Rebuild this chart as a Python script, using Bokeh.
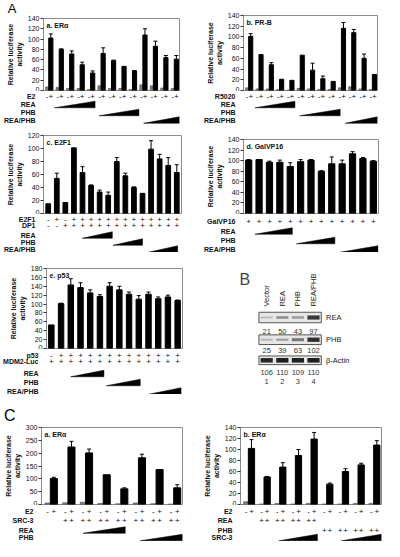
import math
from bokeh.plotting import figure
from bokeh.layouts import row, column
from bokeh.models import Range1d, FixedTicker, Whisker, ColumnDataSource, Label, TeeHead
from bokeh.embed import file_html
from bokeh.resources import INLINE
from bokeh.core.properties import value

FONT = "Liberation Sans"

# ---------------- data ----------------
# A-a ER alpha (pairs: vehicle / E2)
a_groups = list(range(1, 14))
a_veh = [7, 6, 4, 4, 2, 9, 4, 4, 2, 11, 9, 5, 4]
a_e2 = [102, 80, 71, 50, 34, 72, 58, 47, 38, 108, 86, 64, 61]
a_err = [8, 1, 6, 5, 4, 11, 1, 0, 1, 12, 10, 4, 7]
a_rows = ["E2", "REA", "PHB", "REA/PHB"]
a_signs = ["-+"] * 13
a_wedges = [(1.55, 5.43), (5.82, 9.62), (10.07, 13.5)]

# A-b PR-B
b_groups = list(range(1, 14))
b_veh = [5, 3, 3, 2, 1, 4, 3, 2, 2, 5, 7, 3, 2]
b_r5020 = [101, 67, 48, 21, 19, 66, 38, 22, 17, 116, 108, 60, 30]
b_err = [5, 0, 4, 0, 0, 0, 13, 5, 0, 11, 6, 8, 0]
b_rows = ["R5020", "REA", "PHB", "REA/PHB"]
b_signs = ["-+"] * 13
b_wedges = [(1.61, 5.49), (5.95, 9.88), (10.37, 13.5)]

# A-c E2F1
c_bars = list(range(1, 17))
c_vals = [15, 54, 17, 101, 63, 43, 33, 28, 80, 58, 40, 31, 99, 84, 74, 63]
c_err = [0, 8, 0, 0, 9, 1, 3, 5, 6, 4, 1, 0, 13, 7, 12, 12]
c_rows = ["E2F1", "DP1", "REA", "PHB", "REA/PHB"]
c_e2f1 = list("-+-+++++++++++++")
c_dp1 = list("--++++++++++++++")
c_wedges = [(4.96, 8.48), (8.56, 12.0), (12.7, 16.1)]

# A-d GalVP16
d_bars = list(range(1, 14))
d_vals = [101, 102, 97, 97, 89, 98, 101, 80, 94, 94, 113, 104, 99]
d_err = [1, 0, 2, 4, 7, 4, 1, 1, 13, 7, 4, 2, 1]
d_rows = ["GalVP16", "REA", "PHB", "REA/PHB"]
d_gal = list("+" * 13)
d_wedges = [(1.6, 5.2), (5.6, 9.3), (9.8, 13.45)]

# A-e p53
e_bars = list(range(1, 15))
e_vals = [53, 101, 143, 137, 125, 117, 140, 132, 122, 111, 122, 112, 116, 108]
e_err = [0, 1, 14, 11, 7, 4, 8, 8, 5, 8, 5, 4, 4, 1]
e_rows = ["p53", "MDM2-Luc", "REA", "PHB", "REA/PHB"]
e_p53 = list("-+++++++++++++")
e_mdm2 = list("+" * 14)
e_wedges = [(2.99, 6.41), (6.66, 10.15), (11.02, 14.35)]

# B western blot
lanes = [1, 2, 3, 4]
lane_names = ["Vector", "REA", "PHB", "REA/PHB"]
blot_rows = ["REA", "PHB", "β-Actin"]
rea_band = [21, 50, 43, 97]
phb_band = [25, 39, 63, 102]
actin_band = [106, 110, 109, 110]

# C-a ER alpha + SRC-3
ca_groups = list(range(1, 9))
ca_veh = [6, 7, 9, 4, 3, 6, 3, 2]
ca_e2 = [101, 224, 201, 116, 61, 182, 136, 65]
ca_err = [5, 22, 15, 0, 4, 14, 0, 12]
ca_rows = ["E2", "SRC-3", "REA", "PHB"]
ca_e2s = ["-+"] * 8
ca_src3 = [""] + ["++"] * 7
ca_wedges = [(2.85, 5.25), (6.1, 8.5)]

# C-b ER alpha + REA/PHB, SRC-3 titration
cb_groups = list(range(1, 10))
cb_veh = [5, 1, 2, 1, 2, 1, 1, 2, 2]
cb_e2 = [102, 50, 68, 89, 119, 37, 60, 72, 108]
cb_err = [16, 1, 8, 11, 12, 2, 5, 3, 8]
cb_rows = ["E2", "REA", "PHB", "SRC-3"]
cb_e2s = ["-+"] * 9
cb_rea = [""] + ["++"] * 4 + [""] * 4
cb_phb = [""] * 5 + ["++"] * 4
cb_wedges = [(2.95, 5.41), (6.94, 9.5)]

PAIR_OFF = [-0.15, 0.2]
GREY_W, BLACK_W = 0.3, 0.4
OUTLINE = "#8c8c8c"


def base_fig(w, h, xr, yr, bl, br, bt, bb, yaxis=True):
    p = figure(width=w, height=h, x_range=xr, y_range=yr,
               x_axis_location=None, y_axis_location="left" if yaxis else None,
               output_backend="svg", toolbar_location=None, tools="",
               min_border_left=bl, min_border_right=br,
               min_border_top=bt, min_border_bottom=bb)
    p.grid.visible = False
    p.background_fill_color = "white"
    p.border_fill_color = "white"
    return p


def header(w, h, bl, letter, ypos, size, standoff):
    """Panel letter drawn as the single tick label of a bare left axis."""
    f = base_fig(w, h, Range1d(0, 1), Range1d(0, h), bl, 0, 0, 0)
    f.outline_line_color = None
    ax = f.yaxis[0]
    ax.ticker = FixedTicker(ticks=[ypos])
    ax.major_label_overrides = {ypos: letter}
    ax.axis_line_color = None
    ax.major_tick_line_color = None
    ax.minor_tick_line_color = None
    ax.major_tick_out = 0
    ax.major_label_standoff = standoff
    ax.major_label_text_font = FONT
    ax.major_label_text_font_size = size
    ax.major_label_text_color = "black"
    return f


def bar_chart(w, h, bl, br, bt, xr, ymax, ystep, title):
    p = base_fig(w, h, xr, Range1d(0, ymax), bl, br, bt, 1)
    p.outline_line_color = OUTLINE
    ax = p.yaxis[0]
    ax.ticker = FixedTicker(ticks=list(range(0, ymax + 1, ystep)))
    ax.axis_line_color = OUTLINE
    ax.major_tick_line_color = "#333"
    ax.major_tick_out = 3
    ax.major_tick_in = 0
    ax.minor_tick_line_color = None
    ax.major_label_text_font = FONT
    ax.major_label_text_font_size = "7px"
    ax.major_label_text_color = "#111"
    ax.major_label_standoff = 1
    ax.axis_label = "Relative luciferase\nactivity"
    ax.axis_label_text_font = FONT
    ax.axis_label_text_font_style = "bold"
    ax.axis_label_text_font_size = "7px"
    ax.axis_label_text_color = "#111"
    ax.axis_label_standoff = 2
    frame_h = h - bt - 1
    p.add_layout(Label(x=3, y=frame_h - 7, x_units="screen", y_units="screen",
                       text=title, text_font=FONT, text_font_style="bold",
                       text_font_size="7px", text_baseline="middle", text_color="#111"))
    return p


def add_errors(p, xs, tops, errs):
    sel = [(x, t, e) for x, t, e in zip(xs, tops, errs) if e > 0]
    src = ColumnDataSource(dict(x=[s[0] for s in sel], lo=[s[1] for s in sel],
                                up=[s[1] + s[2] for s in sel]))
    p.add_layout(Whisker(source=src, base="x", lower="lo", upper="up",
                         dimension="height", line_color="black", line_width=1,
                         lower_head=None,
                         upper_head=TeeHead(size=4, line_color="black", line_width=1)))


def paired_bars(p, groups, veh, trt, err):
    gx = [g + PAIR_OFF[0] for g in groups]
    bx = [g + PAIR_OFF[1] for g in groups]
    p.vbar(x=gx, top=veh, bottom=0, width=GREY_W, fill_color="#808080",
           line_color="#333", line_width=0.5)
    p.vbar(x=bx, top=trt, bottom=0, width=BLACK_W, fill_color="black", line_color="black")
    add_errors(p, bx, trt, err)


def single_bars(p, xs, vals, err, width=0.58):
    p.vbar(x=xs, top=vals, bottom=0, width=width, fill_color="black", line_color="black")
    add_errors(p, xs, vals, err)


def strip(w, h, bl, br, xr, names, pos):
    s = base_fig(w, h, xr, Range1d(h, 0), bl, br, 0, 0)
    s.outline_line_color = None
    ax = s.yaxis[0]
    ax.ticker = FixedTicker(ticks=pos)
    ax.major_label_overrides = dict(zip(pos, names))
    ax.axis_line_color = None
    ax.major_tick_line_color = None
    ax.minor_tick_line_color = None
    ax.major_label_text_font = FONT
    ax.major_label_text_font_style = "bold"
    ax.major_label_text_font_size = "7px"
    ax.major_label_text_color = "#111"
    ax.major_label_standoff = 2
    return s


def sign_row(s, groups, signs, y, offsets):
    xs, ys, ts = [], [], []
    for g, st in zip(groups, signs):
        for off, ch in zip(offsets, st):
            if ch.strip():
                xs.append(g + off)
                ys.append(y)
                ts.append(ch)
    s.text(x=xs, y=ys, text=ts, text_font=value(FONT), text_font_size="8px",
           text_align="center", text_baseline="middle", text_color="#111")


def wedges(s, spans, ys, hgt=6.5):
    xs_l, ys_l = [], []
    for (x0, x1), y in zip(spans, ys):
        xs_l.append([x0, x1, x1])
        ys_l.append([y + hgt / 2, y + hgt / 2, y - hgt / 2])
    s.patches(xs_l, ys_l, fill_color="black", line_color="black", line_width=0.5)


# ---------------- A-a ----------------
ha = header(192, 15, 38, "A", 7.5, "13px", 27)
xr = Range1d(0.5, 13.5)
pa = bar_chart(192, 76, 38, 13, 3, xr, 140, 20, "a. ERα")
paired_bars(pa, a_groups, a_veh, a_e2, a_err)
pos = [5, 13, 21, 28.5]
sa = strip(192, 35, 38, 13, xr, a_rows, pos)
sign_row(sa, a_groups, a_signs, pos[0], PAIR_OFF)
wedges(sa, a_wedges, pos[1:])

# ---------------- A-b ----------------
xr = Range1d(0.5, 13.5)
pb = bar_chart(192, 91, 51, 7, 15, xr, 140, 20, "b. PR-B")
paired_bars(pb, b_groups, b_veh, b_r5020, b_err)
sb = strip(192, 35, 51, 7, xr, b_rows, pos)
sign_row(sb, b_groups, b_signs, pos[0], PAIR_OFF)
wedges(sb, b_wedges, pos[1:])

# ---------------- A-c ----------------
xr = Range1d(0.45, 16.55)
pc = bar_chart(192, 88, 38, 11, 9, xr, 120, 20, "c. E2F1")
single_bars(pc, c_bars, c_vals, c_err, 0.55)
pos = [4.5, 10.5, 20.5, 27.5, 34.5]
sc = strip(192, 38, 38, 11, xr, c_rows, pos)
sign_row(sc, c_bars, c_e2f1, pos[0], [0])
sign_row(sc, c_bars, c_dp1, pos[1], [0])
wedges(sc, c_wedges, pos[2:])

# ---------------- A-d ----------------
xr = Range1d(0.5, 13.5)
pd = bar_chart(192, 88, 51, 6, 13, xr, 140, 20, "d. GalVP16")
single_bars(pd, d_bars, d_vals, d_err, 0.6)
pos = [7, 16.5, 26, 34.5]
sd = strip(192, 38, 51, 6, xr, d_rows, pos)
sign_row(sd, d_bars, d_gal, pos[0], [0])
wedges(sd, d_wedges, pos[1:])

# ---------------- A-e ----------------
xr = Range1d(0.5, 14.5)
pe = bar_chart(192, 97, 38, 10, 16, xr, 180, 20, "e. p53")
single_bars(pe, e_bars, e_vals, e_err, 0.56)
pos = [5.5, 11.5, 24, 33, 41.5]
se = strip(192, 45, 38, 10, xr, e_rows, pos)
sign_row(se, e_bars, e_p53, pos[0], [0])
sign_row(se, e_bars, e_mdm2, pos[1], [0])
wedges(se, e_wedges, pos[2:])

# ---------------- B blot ----------------
bl_ = figure(width=192, height=142, x_range=Range1d(-3.756, 8.55), y_range=Range1d(142, 0),
             x_axis_location=None, y_axis_location=None, output_backend="svg",
             toolbar_location=None, tools="", min_border=0)
bl_.grid.visible = False
bl_.outline_line_color = None
bl_.add_layout(Label(x=-0.74, y=26.7, text="B", text_font=FONT, text_font_size="16px",
                     text_baseline="alphabetic"))
bl_.text(x=lanes, y=[54] * 4, text=lane_names, angle=math.pi / 2, text_font=value(FONT),
         text_font_size="7.5px", text_align="left", text_baseline="middle", text_color="#222")
box_y = [65, 87.2, 107.8]
box_h = [10.5, 9.7, 8.7]
bl_.rect(x=[2.5] * 3, y=box_y, width=4, height=box_h, fill_color="#e6e6e6",
         line_color="#555", line_width=1)
for band, yb in zip([rea_band, phb_band, actin_band], box_y):
    bl_.rect(x=lanes, y=[yb] * 4, width=0.78,
             height=[1.0 + 3.6 * v / 110 for v in band],
             fill_color="#1e1e1e", line_color=None,
             fill_alpha=[min(1.0, 0.12 + 0.88 * (v / 110) ** 1.3) for v in band])
for band, yn in zip([rea_band, phb_band, actin_band], [79, 97.6, 119.6]):
    bl_.text(x=lanes, y=[yn] * 4, text=[str(v) for v in band], text_font=value(FONT),
             text_font_size="7.5px", text_align="center", text_baseline="middle",
             text_color="#333")
bl_.text(x=lanes, y=[129] * 4, text=[str(l) for l in lanes], text_font=value(FONT),
         text_font_size="7.5px", text_align="center", text_baseline="middle", text_color="#333")
bl_.text(x=[4.8] * 3, y=box_y, text=blot_rows, text_font=value(FONT),
         text_font_size="7.5px", text_align="left", text_baseline="middle", text_color="#222")

# ---------------- C-a ----------------
hc = header(192, 30, 38, "C", 9, "16px", 26)
xr = Range1d(0.5, 8.5)
pca = bar_chart(192, 81, 38, 10, 3, xr, 300, 50, "a. ERα")
paired_bars(pca, ca_groups, ca_veh, ca_e2, ca_err)
pos = [5.5, 15, 24.5, 32]
sca = strip(192, 36, 38, 10, xr, ca_rows, pos)
sign_row(sca, ca_groups, ca_e2s, pos[0], PAIR_OFF)
sign_row(sca, ca_groups, ca_src3, pos[1], PAIR_OFF)
wedges(sca, ca_wedges, pos[2:])

# ---------------- C-b ----------------
xr = Range1d(0.5, 9.5)
pcb = bar_chart(192, 111, 48, 3, 33, xr, 140, 20, "b. ERα")
paired_bars(pcb, cb_groups, cb_veh, cb_e2, cb_err)
scb = strip(192, 36, 48, 3, xr, cb_rows, pos)
sign_row(scb, cb_groups, cb_e2s, pos[0], PAIR_OFF)
sign_row(scb, cb_groups, cb_rea, pos[1], PAIR_OFF)
sign_row(scb, cb_groups, cb_phb, pos[2], PAIR_OFF)
wedges(scb, cb_wedges, [pos[3], pos[3]])

layout = column(
    row(column(ha, pa, sa), column(pb, sb)),
    row(column(pc, sc), column(pd, sd)),
    row(column(pe, se), bl_),
    row(column(hc, pca, sca), column(pcb, scb)),
)

open("out.html", "w").write(file_html(layout, INLINE))
